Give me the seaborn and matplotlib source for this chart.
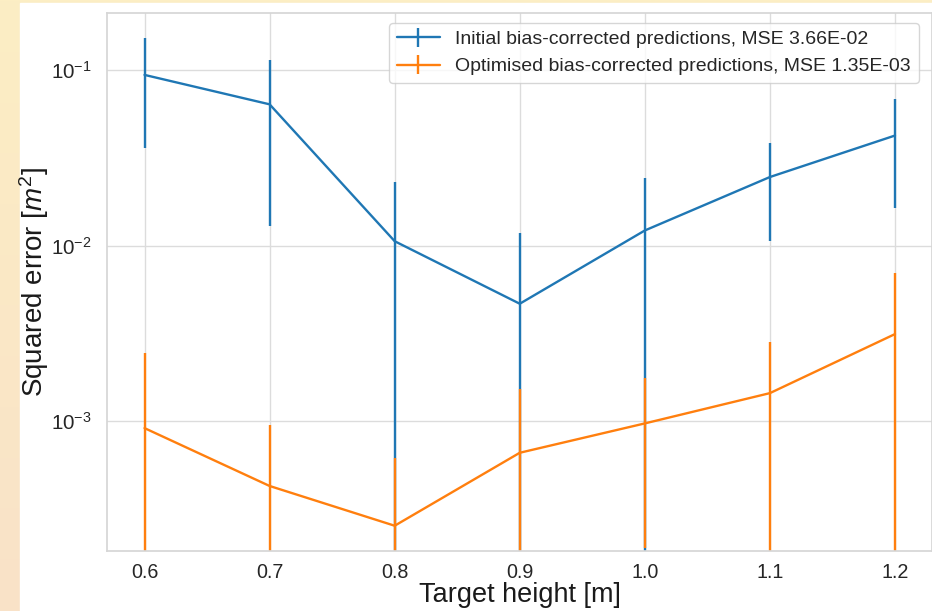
import numpy as np
import matplotlib
matplotlib.use("Agg")
import matplotlib.pyplot as plt
import seaborn as sns

# Target heights [m]
heights = [0.6, 0.7, 0.8, 0.9, 1.0, 1.1, 1.2]

# Initial bias-corrected predictions: squared error and its spread
initial_err = [0.0937, 0.0637, 0.01058, 0.00466, 0.01218, 0.02455, 0.0423]
initial_std = [0.0580, 0.0508, 0.0123, 0.00708, 0.0122, 0.0140, 0.0260]

# Optimised bias-corrected predictions: squared error and its spread
optim_err = [9.12e-4, 4.27e-4, 2.535e-4, 6.6e-4, 9.7e-4, 1.443e-3, 3.13e-3]
optim_std = [1.53e-3, 5.2e-4, 3.6e-4, 8.56e-4, 7.8e-4, 1.376e-3, 3.87e-3]

labels = ["Initial bias-corrected predictions, MSE 3.66E-02",
          "Optimised bias-corrected predictions, MSE 1.35E-03"]

sns.set_theme(style="whitegrid")
plt.rcParams["font.family"] = ["Liberation Sans", "DejaVu Sans"]
plt.rcParams["mathtext.fontset"] = "custom"
plt.rcParams["mathtext.rm"] = "Liberation Sans"
plt.rcParams["mathtext.it"] = "Liberation Sans:italic"
plt.rcParams["mathtext.bf"] = "Liberation Sans:bold"
plt.rcParams["grid.color"] = "#dcdcdc"

fig = plt.figure(figsize=(9.32, 6.11), dpi=100)
fig.patch.set_facecolor("white")

# Page background strips around the figure
W, H = 932, 611
bg = fig.add_axes([0, 0, 1, 1], zorder=-10)
bg.set_axis_off()
grad = np.linspace(0, 1, 256)[:, None]
top_col = np.array([252, 238, 196]) / 255
bot_col = np.array([249, 226, 200]) / 255
img = top_col[None, None, :] * (1 - grad[:, :, None]) + bot_col[None, None, :] * grad[:, :, None]
bg.imshow(img, extent=[0, 1, 0, 1], aspect="auto", origin="upper")
bg.add_patch(plt.Rectangle((20 / W, 0), 1 - 20 / W, 1 - 3 / H, color="white",
                           transform=bg.transAxes, zorder=2))
bg.set_xlim(0, 1)
bg.set_ylim(0, 1)

ax = fig.add_axes([107 / W, 1 - 551 / H, (932.5 - 107) / W, (551 - 13) / H])

ax.errorbar(heights, initial_err, yerr=initial_std, color="#1f77b4", lw=1.7,
            elinewidth=1.7, label=labels[0])
ax.errorbar(heights, optim_err, yerr=optim_std, color="#ff7f0e", lw=1.7,
            elinewidth=1.7, label=labels[1])

ax.set_yscale("log")
ax.set_ylim(1.82e-4, 0.211)
ax.set_xlim(0.57, 1.23)
ax.set_xticks(heights)
ax.set_xticklabels([f"{h:.1f}" for h in heights])

ax.tick_params(axis="x", labelsize=14.2, colors="#262626", pad=3)
ax.tick_params(axis="y", labelsize=14.8, colors="#262626", pad=5)
ax.set_xlabel("Target height [m]", fontsize=19.5, color="#1a1a1a", labelpad=0)
ax.set_ylabel("Squared error [$m^2$]", fontsize=20, color="#1a1a1a", labelpad=0)

for s in ax.spines.values():
    s.set_color("#d6d6d6")

ax.legend(loc="upper right", fontsize=14, frameon=True, borderaxespad=0.5,
          handlelength=2.2, bbox_to_anchor=(0.995, 1.0))

fig.savefig("out.png", dpi=100)
